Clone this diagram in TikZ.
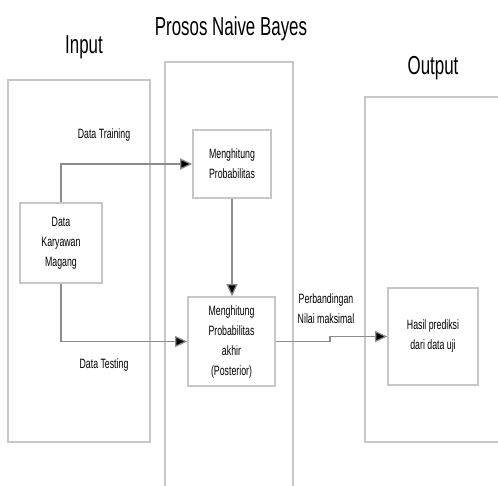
\documentclass[tikz,border=0pt]{standalone}
\usepackage{fontspec}
\setmainfont{Liberation Sans}
\newfontfamily\narrowfont[FakeStretch=0.65]{Liberation Sans}
\usetikzlibrary{arrows.meta}
\begin{document}
\begin{tikzpicture}[x=1pt,y=-1pt,
  frame/.style={draw=black!22,line width=1.8pt},
  box/.style={draw=black!22,line width=1.6pt,align=center,inner sep=0pt,
    font=\narrowfont\fontsize{13.5}{20}\selectfont},
  title/.style={font=\narrowfont\fontsize{26}{30}\selectfont},
  lbl/.style={font=\narrowfont\fontsize{13.5}{20}\selectfont,align=center},
  conn/.style={draw=black!45,line width=1.2pt,-{Triangle[length=12pt,width=11pt,fill=black]}},
  line/.style={draw=black!45,line width=1.2pt}]
\useasboundingbox (0,0) rectangle (498,485);
\begin{scope}
\clip (0,0) rectangle (498,485);
% outer frames
\draw[frame] (8,80) rectangle (150,442);
\draw[frame] (165,490) -- (165,62) -- (293,62) -- (293,490);
\draw[frame] (505,97) -- (365,97) -- (365,442) -- (505,442);
\end{scope}
% titles
\node[title] (tin) at (84,47) {Input};
\node[title] (tproc) at (231,29) {Prosos Naive Bayes};
\node[title] (tout) at (433,68) {Output};
% boxes
\node[box,minimum width=82pt,minimum height=80pt] (data) at (61,243) {Data\\Karyawan\\Magang};
\node[box,minimum width=78pt,minimum height=68pt] (prob) at (232,164) {Menghitung\\Probabilitas};
\node[box,minimum width=87pt,minimum height=89pt] (post) at (231.5,341.5) {Menghitung\\Probabilitas\\akhir\\(Posterior)};
\node[box,minimum width=90pt,minimum height=97pt] (hasil) at (433,336.5) {Hasil prediksi\\dari data uji};
% labels
\node[lbl] (ltrain) at (104,135) {Data Training};
\node[lbl] (ltest) at (104,365) {Data Testing};
\node[lbl] (lcmp) at (326,309) {Perbandingan\\Nilai maksimal};
% connectors
\coordinate (cstep) at (330,341.5);
\draw[conn] (data.north) |- (prob.west);
\draw[conn] (data.south) |- (post.west);
\draw[conn] (prob.south) -- (prob.south |- post.north);
\draw[line] (post.east) -- (cstep);
\draw[conn] (cstep) |- (hasil.west);
\end{tikzpicture}
\end{document}
